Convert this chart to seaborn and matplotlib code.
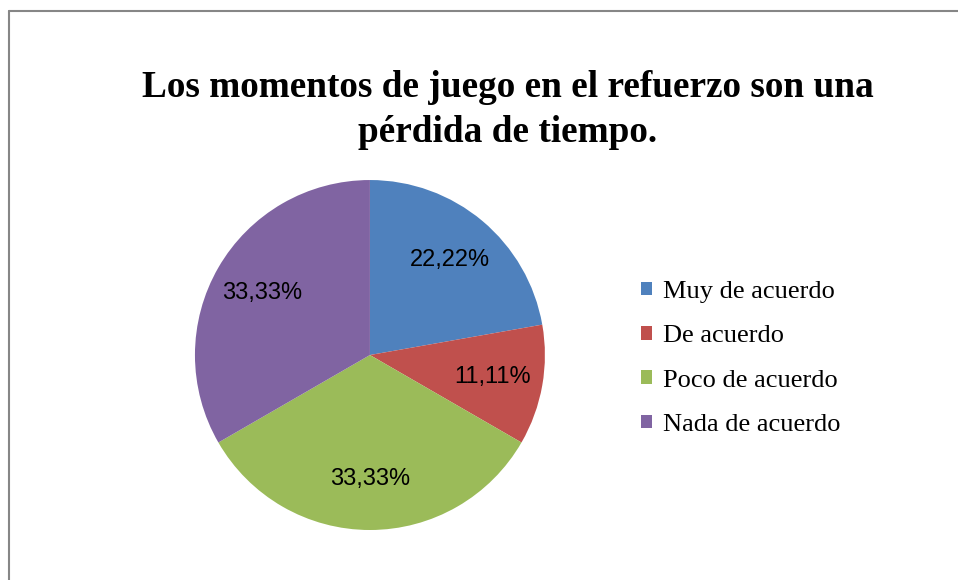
import matplotlib
matplotlib.use('Agg')
import matplotlib.pyplot as plt
from matplotlib.lines import Line2D
import seaborn as sns

sns.set_style('white')

# datos del grafico
categorias = ['Muy de acuerdo', 'De acuerdo', 'Poco de acuerdo', 'Nada de acuerdo']
porcentajes = [22.22, 11.11, 33.33, 33.33]
titulo = 'Los momentos de juego en el refuerzo son una\npérdida de tiempo.'

colores = sns.color_palette(['#4F81BD', '#C0504D', '#9BBB59', '#8064A2'])

fig = plt.figure(figsize=(9.58, 5.8), dpi=100)
ax = fig.add_axes([0.2035, 0.0862, 0.3653, 0.6034])


def etiqueta(p):
    return ('%.2f%%' % p).replace('.', ',')


wedges, textos, autotextos = ax.pie(
    porcentajes, colors=colores, startangle=90, counterclock=False,
    autopct=etiqueta, pctdistance=0.71, radius=1,
    wedgeprops={'linewidth': 0},
    textprops={'family': 'Liberation Sans', 'fontsize': 17, 'color': 'black'})
ax.set_xlim(-1, 1)
ax.set_ylim(-1, 1)
ax.set_aspect('auto')
ax.axis('off')

fig.text(0.53, 0.81, titulo, ha='center', va='center', fontsize=26.8,
         fontweight='bold', family='Liberation Serif', linespacing=1.38, color='black')

fig.legend(wedges, categorias, loc='center left', bbox_to_anchor=(0.669, 0.382),
           frameon=False, prop={'family': 'Liberation Serif', 'size': 19},
           labelcolor='black',
           handlelength=0.42, handleheight=0.42, handletextpad=0.4,
           labelspacing=0.85, borderpad=0, borderaxespad=0)

# marco del area del grafico
borde = '#868686'
fig.add_artist(Line2D([8.5 / 958, 8.5 / 958], [0, 1 - 11 / 580], color=borde, lw=1.5,
                      transform=fig.transFigure))
fig.add_artist(Line2D([8.5 / 958, 1], [1 - 11 / 580, 1 - 11 / 580], color=borde, lw=1.5,
                      transform=fig.transFigure))

fig.savefig('out.png', dpi=100)
